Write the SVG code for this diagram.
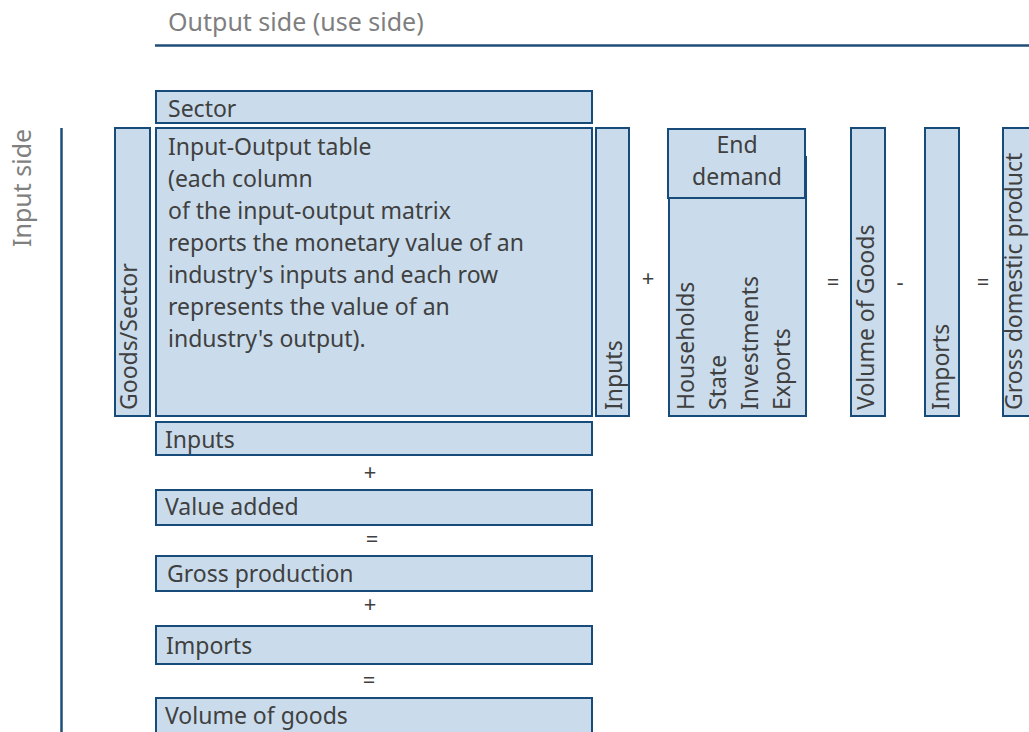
<svg xmlns="http://www.w3.org/2000/svg" width="1029" height="732" viewBox="0 0 1029 732">
<style>
.box{fill:#cadcec;stroke:#174b7a;stroke-width:2}
.t{font-family:"Noto Sans","Open Sans","DejaVu Sans",sans-serif;font-size:23px;fill:#404040}
.h{font-family:"Noto Sans","Open Sans","DejaVu Sans",sans-serif;font-size:25px;fill:#7f7f7f}
.op{font-family:"Noto Sans","Open Sans","DejaVu Sans",sans-serif;font-size:22px;fill:#404040;text-anchor:middle}
.ax{stroke:#1f4e79;stroke-width:2.5;fill:none}
</style>
<rect width="1029" height="732" fill="#ffffff"/>
<g id="axes">
<text class="h" x="168" y="31">Output side (use side)</text>
<line class="ax" x1="155" y1="45.5" x2="1029" y2="45.5"/>
<text class="h" transform="translate(31,247) rotate(-90)">Input side</text>
<line class="ax" x1="61.5" y1="128" x2="61.5" y2="732"/>
</g>
<g id="sector"><rect class="box" x="156" y="91" width="436" height="32"/><text class="t" x="168" y="117">Sector</text></g>
<g id="goods-sector"><rect class="box" x="115" y="128" width="35" height="288"/><text class="t" transform="translate(137,410) rotate(-90)">Goods/Sector</text></g>
<g id="io-table"><rect class="box" x="156" y="128" width="436" height="288"/>
<text class="t" x="168" y="155">Input-Output table</text>
<text class="t" x="168" y="187">(each column</text>
<text class="t" x="168" y="219">of the input-output matrix</text>
<text class="t" x="168" y="251">reports the monetary value of an</text>
<text class="t" x="168" y="283">industry's inputs and each row</text>
<text class="t" x="168" y="315">represents the value of an</text>
<text class="t" x="168" y="347">industry's output).</text>
</g>
<g id="inputs-col"><rect class="box" x="596" y="128" width="33" height="288"/><text class="t" transform="translate(622,410) rotate(-90)">Inputs</text></g>
<g id="end-demand">
<rect class="box" x="669" y="157" width="137" height="259"/>
<rect class="box" x="668" y="129" width="137" height="69"/>
<text class="t" x="737" y="153" text-anchor="middle">End</text>
<text class="t" x="737" y="185" text-anchor="middle">demand</text>
<text class="t" transform="translate(694,410) rotate(-90)">Households</text>
<text class="t" transform="translate(726,410) rotate(-90)">State</text>
<text class="t" transform="translate(758,410) rotate(-90)">Investments</text>
<text class="t" transform="translate(790,410) rotate(-90)">Exports</text>
</g>
<g id="volume-goods-col"><rect class="box" x="851" y="128" width="34" height="288"/><text class="t" transform="translate(874,410) rotate(-90)">Volume of Goods</text></g>
<g id="imports-col"><rect class="box" x="925" y="128" width="34" height="288"/><text class="t" transform="translate(949,410) rotate(-90)">Imports</text></g>
<g id="gdp-col"><rect class="box" x="1003" y="128" width="40" height="288"/><text class="t" transform="translate(1022,410) rotate(-90)">Gross domestic product</text></g>
<g id="ops-right">
<text class="op" x="648" y="286">+</text>
<text class="op" x="833" y="290">=</text>
<text class="op" x="900" y="290">-</text>
<text class="op" x="983" y="290">=</text>
</g>
<g id="inputs-row"><rect class="box" x="156" y="422" width="436" height="33"/><text class="t" x="165" y="448">Inputs</text></g>
<g id="value-added"><rect class="box" x="156" y="490" width="436" height="35"/><text class="t" x="165" y="515">Value added</text></g>
<g id="gross-production"><rect class="box" x="156" y="556" width="436" height="35"/><text class="t" x="167" y="582">Gross production</text></g>
<g id="imports-row"><rect class="box" x="156" y="626" width="436" height="38"/><text class="t" x="166" y="654">Imports</text></g>
<g id="volume-goods-row"><rect class="box" x="156" y="698" width="436" height="40"/><text class="t" x="165" y="724">Volume of goods</text></g>
<g id="ops-bottom">
<text class="op" x="370" y="480">+</text>
<text class="op" x="372" y="547">=</text>
<text class="op" x="370" y="612">+</text>
<text class="op" x="369" y="688">=</text>
</g>
</svg>
